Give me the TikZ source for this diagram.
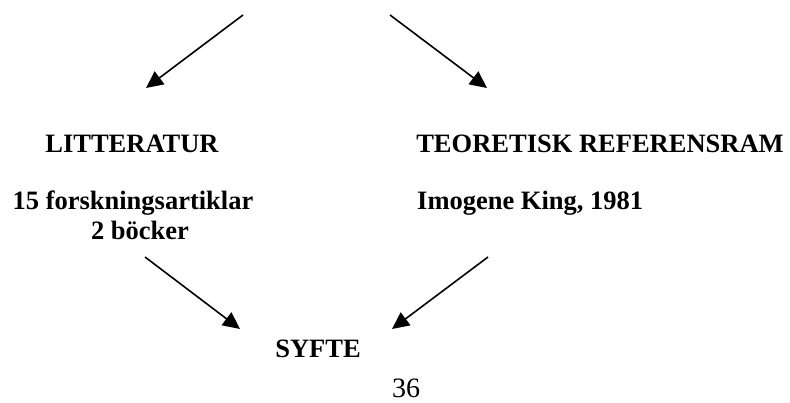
\documentclass[tikz,border=0pt]{standalone}
\usepackage{fontspec}
\setmainfont{Liberation Serif}
\usetikzlibrary{arrows.meta,positioning}

\tikzset{
  rubrik/.style={font=\fontsize{26.5}{30}\selectfont\bfseries, inner sep=0pt, anchor=base},
  pil/.style={line width=1.6pt, -{Triangle[length=17pt,width=16pt]}}
}

\begin{document}
\begin{tikzpicture}[x=1pt,y=-1pt]
	\useasboundingbox (0,0) rectangle (790,403);
	
	% rubriker
	\node[rubrik] (lit) at (132,153) {LITTERATUR};
	\node[rubrik] (teori) at (600,153) {TEORETISK REFERENSRAM};
	\node[rubrik] (artiklar) at (133,210) {15 forskningsartiklar};
	\node[rubrik] (bocker) at (140,240) {2 böcker};
	\node[rubrik, anchor=base west] (king) at (417,210) {Imogene King, 1981};
	\node[rubrik] (syfte) at (318,357) {SYFTE};
	\node[font=\fontsize{28}{32}\selectfont, inner sep=0pt, anchor=base] (sida) at (406,397) {36};
	
	% pilarnas ändpunkter
	\coordinate (startV) at (243,15);
	\coordinate (startH) at (390,15);
	\coordinate (litIn) at (146,88);
	\coordinate (teoriIn) at (487,88);
	\coordinate (litUt) at (145,257);
	\coordinate (teoriUt) at (488,257);
	\coordinate (syfteV) at (240,329);
	\coordinate (syfteH) at (392,329);
	
	% pilar
	\draw[pil] (startV) -- (litIn);
	\draw[pil] (startH) -- (teoriIn);
	\draw[pil] (litUt) -- (syfteV);
	\draw[pil] (teoriUt) -- (syfteH);
\end{tikzpicture}
\end{document}
